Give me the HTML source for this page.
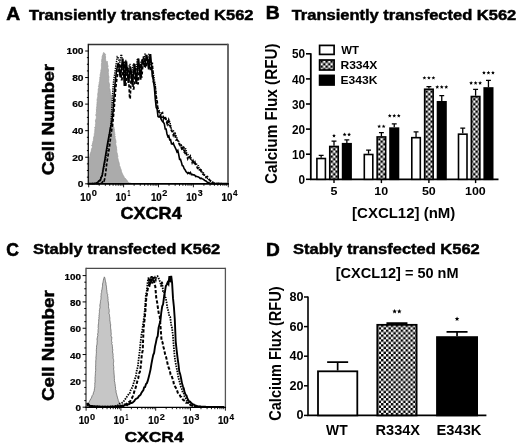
<!DOCTYPE html>
<html><head><meta charset="utf-8"><style>
html,body{margin:0;padding:0;background:#fff;}
svg{display:block;filter:blur(0.3px);}
text{font-family:"Liberation Sans",sans-serif;font-weight:bold;}
</style></head><body>
<svg width="520" height="446" viewBox="0 0 520 446">
<defs>
<pattern id="chk" x="0.45" y="0.45" width="5" height="5" patternUnits="userSpaceOnUse">
<rect width="5" height="5" fill="#fff"/><rect width="2.5" height="2.5" fill="#000"/><rect x="2.5" y="2.5" width="2.5" height="2.5" fill="#000"/>
</pattern>
<pattern id="chkD" x="3.75" y="1.25" width="4.9" height="4.9" patternUnits="userSpaceOnUse">
<rect width="4.9" height="4.9" fill="#fff"/><rect width="2.45" height="2.45" fill="#000"/><rect x="2.45" y="2.45" width="2.45" height="2.45" fill="#000"/>
</pattern>
</defs>
<rect width="520" height="446" fill="#fff"/>
<text transform="translate(6.32,19.50) scale(1.0028,1)" font-size="19.20" stroke="#000" stroke-width="0.6" fill="#000">A</text>
<text transform="translate(265.79,19.20) scale(1.0725,1)" font-size="18.04" stroke="#000" stroke-width="0.6" fill="#000">B</text>
<text transform="translate(6.30,255.60) scale(0.9493,1)" font-size="18.49" stroke="#000" stroke-width="0.6" fill="#000">C</text>
<text transform="translate(266.01,256.20) scale(1.0260,1)" font-size="18.62" stroke="#000" stroke-width="0.6" fill="#000">D</text>
<text transform="translate(29.04,19.60) scale(1.1574,1)" font-size="14.25" stroke="#000" stroke-width="0.45" fill="#000">Transiently transfected K562</text>
<text transform="translate(291.63,19.60) scale(1.1595,1)" font-size="14.25" stroke="#000" stroke-width="0.45" fill="#000">Transiently transfected K562</text>
<text transform="translate(33.10,253.60) scale(1.1138,1)" font-size="14.84" stroke="#000" stroke-width="0.45" fill="#000">Stably transfected K562</text>
<text transform="translate(293.01,254.20) scale(1.1331,1)" font-size="14.55" stroke="#000" stroke-width="0.45" fill="#000">Stably transfected K562</text>
<path d="M88.70,183.80 L89.01,182.89 L88.77,182.24 L88.64,181.30 L88.77,180.04 L88.60,179.16 L88.76,178.20 L88.57,177.51 L88.76,176.47 L88.38,175.71 L88.97,174.28 L88.60,174.04 L88.38,172.80 L88.66,172.04 L88.63,170.96 L88.73,169.99 L88.47,169.25 L88.78,168.40 L89.42,167.28 L88.44,166.38 L88.77,165.63 L88.64,164.40 L88.74,163.36 L88.34,162.83 L88.47,161.70 L88.79,160.53 L88.69,159.84 L89.29,158.91 L89.08,157.76 L89.51,156.70 L90.32,156.01 L89.85,155.18 L90.10,153.95 L90.55,152.85 L90.83,152.08 L91.29,151.14 L91.43,149.94 L91.41,149.20 L91.77,148.39 L92.42,147.23 L92.31,146.20 L91.66,145.52 L92.35,144.59 L92.37,143.86 L92.83,142.47 L92.84,141.69 L93.42,140.74 L93.39,139.65 L93.54,139.12 L93.56,138.29 L93.68,137.12 L93.92,136.64 L94.28,135.62 L94.29,134.67 L94.28,133.72 L94.76,132.92 L94.71,131.55 L94.82,131.03 L94.84,130.12 L94.96,128.74 L95.02,128.25 L94.66,127.22 L95.49,126.52 L95.48,125.37 L95.39,124.54 L95.72,123.70 L95.67,122.55 L95.73,121.94 L95.23,120.89 L95.75,120.10 L95.97,118.99 L96.25,118.40 L96.36,117.39 L96.34,116.33 L95.89,115.58 L95.74,114.80 L96.36,113.99 L96.31,112.41 L96.57,111.99 L96.41,111.00 L96.54,109.98 L96.26,108.89 L96.72,108.43 L96.60,107.02 L96.82,106.48 L96.91,105.71 L96.86,104.23 L97.01,103.58 L97.01,102.47 L97.22,101.87 L97.24,101.21 L97.09,100.40 L97.18,98.74 L97.75,98.07 L97.48,97.41 L97.80,96.68 L97.78,95.54 L97.69,94.40 L97.75,93.70 L98.02,92.72 L98.15,91.78 L98.32,90.76 L98.05,90.08 L98.30,89.15 L98.52,88.16 L98.97,87.23 L98.30,86.11 L98.98,85.36 L98.90,84.79 L99.21,83.60 L99.15,82.44 L99.44,82.09 L99.79,81.02 L99.67,80.42 L99.81,79.10 L99.93,78.09 L99.83,76.98 L100.22,76.63 L100.19,75.97 L100.20,74.38 L100.48,73.51 L100.57,72.85 L100.90,71.65 L100.86,70.85 L100.89,69.93 L101.37,69.13 L101.36,68.40 L101.50,67.28 L101.45,66.55 L101.39,65.37 L101.41,64.61 L101.52,63.21 L101.84,62.44 L101.76,61.98 L101.52,60.79 L101.89,60.12 L101.77,59.11 L102.23,58.26 L102.11,57.16 L102.25,56.20 L102.92,54.73 L103.28,53.36 L103.57,52.55 L104.75,53.40 L105.63,54.77 L105.00,55.89 L105.76,56.98 L105.36,58.05 L105.50,58.93 L105.66,59.62 L105.81,60.99 L106.76,62.05 L107.40,61.42 L107.30,62.27 L107.54,62.97 L107.45,63.91 L107.83,65.40 L108.15,66.15 L107.68,67.37 L107.99,68.43 L108.17,68.84 L108.41,70.08 L108.52,71.00 L108.22,71.93 L108.22,72.84 L108.51,73.68 L108.40,74.58 L108.47,75.15 L108.80,76.33 L108.97,77.12 L108.74,78.21 L108.71,79.00 L108.91,80.12 L108.52,81.16 L109.00,82.06 L108.89,83.06 L109.68,84.02 L109.44,84.91 L109.43,85.97 L109.46,86.90 L109.10,88.08 L109.91,89.00 L110.27,90.12 L109.97,90.73 L110.42,92.18 L110.60,92.85 L110.32,93.85 L110.99,94.96 L111.21,95.89 L111.13,97.06 L111.21,97.89 L111.52,98.79 L111.19,99.83 L111.56,101.17 L111.80,101.83 L111.39,102.49 L111.88,103.64 L111.64,104.23 L111.36,105.81 L111.80,106.06 L111.67,107.37 L111.97,108.29 L111.72,108.80 L112.21,110.06 L111.90,111.11 L112.16,111.91 L112.02,112.78 L112.12,113.83 L112.47,114.58 L112.32,115.52 L112.24,116.34 L112.11,117.40 L112.64,117.99 L112.60,119.25 L112.43,119.90 L112.70,120.69 L112.60,121.89 L112.76,123.07 L112.95,123.83 L113.34,124.44 L113.49,125.59 L113.43,126.27 L113.88,127.25 L114.05,128.20 L114.08,128.63 L114.41,130.04 L114.26,130.70 L114.41,131.68 L114.65,132.43 L114.67,133.33 L114.95,134.36 L114.66,135.62 L115.31,136.70 L114.99,137.27 L115.23,138.40 L115.11,139.04 L115.62,139.62 L115.86,140.94 L115.93,141.91 L115.99,142.64 L115.62,143.70 L115.89,144.66 L116.06,145.28 L116.08,146.07 L116.60,147.23 L116.52,148.14 L116.59,149.02 L116.80,150.20 L116.65,151.23 L116.81,151.69 L116.96,152.81 L117.38,153.74 L117.49,154.59 L117.68,155.54 L117.93,156.14 L117.58,157.26 L117.89,158.40 L118.22,159.16 L118.10,159.88 L118.45,161.12 L118.95,162.25 L119.15,163.07 L119.33,163.89 L119.31,165.31 L119.60,165.75 L120.20,167.10 L120.25,168.00 L120.73,168.76 L121.27,170.24 L121.27,171.07 L121.56,171.77 L122.02,173.12 L122.48,173.91 L122.80,174.62 L123.31,175.61 L123.96,176.55 L124.11,177.38 L124.83,178.03 L125.70,178.68 L126.15,179.43 L126.73,179.96 L127.26,180.99 L127.82,181.53 L128.46,182.31 L128.80,183.11 L130.05,183.06 L131.34,183.39 L132.00,183.80 Z" fill="#ababab" stroke="#a0a0a0" stroke-width="0.8"/>
<path d="M92.00,183.60 L92.90,183.60 L93.80,183.60 L94.70,183.60 L95.60,183.60 L96.50,183.15 L97.40,182.34 L98.30,182.06 L99.20,181.07 L100.10,180.08 L101.00,176.90 L101.90,175.42 L102.80,171.71 L103.70,168.47 L104.60,164.10 L105.50,159.14 L106.40,154.54 L107.30,150.02 L108.20,143.47 L109.10,136.90 L110.00,131.32 L110.90,124.06 L111.80,110.10 L112.70,91.67 L113.60,81.30 L114.50,75.25 L115.40,69.01 L116.30,63.23 L117.26,56.60 L117.76,56.60 L119.52,62.02 L120.02,62.02 L121.04,54.60 L121.54,54.60 L123.52,69.95 L124.02,69.95 L125.14,60.59 L125.64,60.59 L127.20,74.65 L127.70,74.65 L129.45,64.45 L129.95,64.45 L131.20,74.99 L131.70,74.99 L133.28,63.79 L133.78,63.79 L134.97,71.85 L135.47,71.85 L137.40,58.56 L137.90,58.56 L139.27,71.89 L139.77,71.89 L141.15,60.71 L141.65,60.71 L143.42,61.27 L143.92,61.27 L145.13,54.03 L145.63,54.03 L147.22,61.67 L147.72,61.67 L149.03,54.19 L149.53,54.19 L151.19,65.52 L151.69,65.52 L153.50,74.00 L154.40,80.15 L155.30,85.17 L156.20,97.05 L157.10,108.57 L158.00,108.39 L158.90,109.63 L159.80,112.86 L160.70,114.41 L161.60,117.22 L162.50,116.53 L163.40,120.24 L164.30,117.17 L165.20,119.09 L166.10,118.96 L167.00,121.21 L167.90,126.24 L168.80,119.61 L169.70,121.64 L170.60,125.06 L171.50,130.20 L172.40,130.34 L173.30,130.22 L174.20,133.78 L175.10,133.18 L176.00,135.50 L176.90,138.06 L177.80,141.47 L178.70,141.53 L179.60,143.48 L180.50,146.65 L181.40,145.50 L182.30,149.32 L183.20,147.13 L184.10,152.67 L185.00,148.82 L185.90,149.09 L186.80,153.27 L187.70,153.87 L188.60,156.25 L189.50,157.48 L190.40,155.89 L191.30,158.77 L192.20,162.78 L193.10,160.73 L194.00,163.96 L194.90,163.28 L195.80,163.86 L196.70,164.17 L197.60,165.65 L198.50,165.82 L199.40,169.76 L200.30,169.27 L201.20,169.81 L202.10,172.22 L203.00,171.72 L203.90,174.01 L204.80,175.21 L205.70,176.42 L206.60,176.91 L207.50,178.47 L208.40,178.35 L209.30,179.76 L210.20,181.07 L211.10,181.31 L212.00,182.27 L212.90,182.15 L213.80,182.83 L214.70,183.41 L215.60,183.60 L216.50,183.60 L217.40,183.60 L218.30,183.60 L219.20,183.60 L220.10,183.60 L221.00,183.60 L221.90,183.60" fill="none" stroke="#000" stroke-width="1.5" stroke-dasharray="1.3,1.0"/>
<path d="M96.00,183.60 L96.90,183.60 L97.80,183.60 L98.70,183.60 L99.60,183.60 L100.50,183.60 L101.40,183.12 L102.30,182.64 L103.20,179.99 L104.10,180.74 L105.00,177.82 L105.90,170.94 L106.80,163.05 L107.70,157.50 L108.60,152.22 L109.50,146.75 L110.40,139.26 L111.30,132.39 L112.20,126.71 L113.10,119.70 L114.00,109.81 L114.90,98.93 L115.80,87.31 L116.70,79.87 L117.60,74.53 L118.50,67.80 L119.41,63.71 L119.91,63.71 L121.43,79.66 L121.93,79.66 L123.74,62.86 L124.24,62.86 L125.31,85.04 L125.81,85.04 L127.61,67.86 L128.11,67.86 L129.69,98.71 L130.19,98.71 L131.36,71.46 L131.86,71.46 L133.28,88.85 L133.78,88.85 L135.41,68.79 L135.91,68.79 L137.64,83.61 L138.14,83.61 L139.59,65.35 L140.09,65.35 L141.34,76.89 L141.84,76.89 L143.51,57.15 L144.01,57.15 L145.65,67.19 L146.15,67.19 L147.50,57.98 L148.00,57.98 L149.63,69.37 L150.13,69.37 L151.83,63.23 L152.33,63.23 L153.50,82.00 L154.40,83.45 L155.30,87.74 L156.20,96.53 L157.10,100.31 L158.00,111.60 L158.90,111.86 L159.80,113.07 L160.70,116.58 L161.60,113.26 L162.50,112.61 L163.40,117.16 L164.30,117.98 L165.20,116.42 L166.10,120.32 L167.00,123.20 L167.90,119.96 L168.80,122.40 L169.70,124.93 L170.60,127.44 L171.50,130.66 L172.40,131.92 L173.30,135.24 L174.20,133.28 L175.10,135.80 L176.00,139.84 L176.90,139.60 L177.80,140.79 L178.70,142.95 L179.60,144.90 L180.50,145.02 L181.40,147.93 L182.30,150.29 L183.20,147.09 L184.10,147.60 L185.00,152.73 L185.90,151.87 L186.80,155.81 L187.70,158.61 L188.60,156.13 L189.50,157.02 L190.40,158.62 L191.30,160.10 L192.20,160.91 L193.10,161.18 L194.00,163.56 L194.90,162.18 L195.80,165.58 L196.70,166.32 L197.60,168.45 L198.50,168.43 L199.40,169.73 L200.30,169.56 L201.20,171.54 L202.10,173.06 L203.00,174.27 L203.90,174.64 L204.80,176.71 L205.70,177.51 L206.60,177.05 L207.50,176.63 L208.40,178.24 L209.30,179.68 L210.20,180.45 L211.10,180.92 L212.00,181.64 L212.90,182.66 L213.80,183.42 L214.70,183.60 L215.60,183.60 L216.50,183.60 L217.40,183.60 L218.30,183.60 L219.20,183.60" fill="none" stroke="#000" stroke-width="1.7" stroke-dasharray="3.2,1.8"/>
<path d="M88.70,183.60 L89.60,183.60 L90.50,183.60 L91.40,183.60 L92.30,183.60 L93.20,183.60 L94.10,183.58 L95.00,183.41 L95.90,183.23 L96.80,183.06 L97.70,182.47 L98.60,181.02 L99.50,180.60 L100.40,180.46 L101.30,177.24 L102.20,175.99 L103.10,169.69 L104.00,164.28 L104.90,159.46 L105.80,153.97 L106.70,148.29 L107.60,143.25 L108.50,138.32 L109.40,133.73 L110.30,128.47 L111.20,124.82 L112.10,119.71 L113.00,112.09 L113.90,98.32 L114.80,86.44 L115.70,77.60 L116.60,70.56 L117.50,66.00 L118.00,63.64 L118.50,63.64 L120.09,76.41 L120.59,76.41 L122.43,59.18 L122.93,59.18 L124.30,85.10 L124.80,85.10 L126.01,62.06 L126.51,62.06 L128.21,82.26 L128.71,82.26 L130.24,67.64 L130.74,67.64 L132.05,83.95 L132.55,83.95 L134.39,64.91 L134.89,64.91 L136.02,83.10 L136.52,83.10 L138.18,59.18 L138.68,59.18 L140.26,78.92 L140.76,78.92 L142.21,59.71 L142.71,59.71 L144.30,66.08 L144.80,66.08 L146.39,55.67 L146.89,55.67 L148.52,68.76 L149.02,68.76 L150.12,54.74 L150.62,54.74 L152.34,76.40 L152.84,76.40 L153.50,82.00 L154.40,87.67 L155.30,99.14 L156.20,107.50 L157.10,108.99 L158.00,116.52 L158.90,116.96 L159.80,116.25 L160.70,117.73 L161.60,120.21 L162.50,121.44 L163.40,122.32 L164.30,123.74 L165.20,129.04 L166.10,129.05 L167.00,134.01 L167.90,136.64 L168.80,135.84 L169.70,139.89 L170.60,139.75 L171.50,143.83 L172.40,144.08 L173.30,143.12 L174.20,145.75 L175.10,147.41 L176.00,149.34 L176.90,151.77 L177.80,150.50 L178.70,154.49 L179.60,159.37 L180.50,159.32 L181.40,162.21 L182.30,165.68 L183.20,165.94 L184.10,168.67 L185.00,169.62 L185.90,171.47 L186.80,172.31 L187.70,173.51 L188.60,172.63 L189.50,173.62 L190.40,172.51 L191.30,174.63 L192.20,174.39 L193.10,174.84 L194.00,174.79 L194.90,175.41 L195.80,176.54 L196.70,176.26 L197.60,176.87 L198.50,177.08 L199.40,177.64 L200.30,178.61 L201.20,178.24 L202.10,178.76 L203.00,179.09 L203.90,179.75 L204.80,180.51 L205.70,180.79 L206.60,181.57 L207.50,182.21 L208.40,182.55 L209.30,182.92 L210.20,183.28 L211.10,183.60 L212.00,183.60 L212.90,183.60 L213.80,183.60 L214.70,183.60 L215.60,183.60 L216.50,183.60 L217.40,183.60 L218.30,183.60 L219.20,183.60 L220.10,183.60 L221.00,183.60 L221.90,183.60 L222.80,183.60 L223.70,183.60 L224.60,183.60 L225.50,183.60 L226.40,183.60 L227.30,183.60" fill="none" stroke="#000" stroke-width="1.6"/>
<line x1="88.7" y1="44.50" x2="228.00" y2="44.50" stroke="#333" stroke-width="1.4"/>
<line x1="228.00" y1="43.80" x2="228.00" y2="183.90" stroke="#5a5a5a" stroke-width="1.8"/>
<line x1="88.30" y1="43.80" x2="88.30" y2="184.80" stroke="#111" stroke-width="1.3"/>
<line x1="87.65" y1="183.90" x2="228.90" y2="183.90" stroke="#000" stroke-width="1.8"/>
<line x1="85.2" y1="183.80" x2="88.7" y2="183.80" stroke="#000" stroke-width="1"/>
<line x1="86.9" y1="177.16" x2="88.7" y2="177.16" stroke="#000" stroke-width="1"/>
<line x1="86.9" y1="170.52" x2="88.7" y2="170.52" stroke="#000" stroke-width="1"/>
<line x1="86.9" y1="163.88" x2="88.7" y2="163.88" stroke="#000" stroke-width="1"/>
<line x1="85.2" y1="157.24" x2="88.7" y2="157.24" stroke="#000" stroke-width="1"/>
<line x1="86.9" y1="150.60" x2="88.7" y2="150.60" stroke="#000" stroke-width="1"/>
<line x1="86.9" y1="143.96" x2="88.7" y2="143.96" stroke="#000" stroke-width="1"/>
<line x1="86.9" y1="137.32" x2="88.7" y2="137.32" stroke="#000" stroke-width="1"/>
<line x1="85.2" y1="130.68" x2="88.7" y2="130.68" stroke="#000" stroke-width="1"/>
<line x1="86.9" y1="124.04" x2="88.7" y2="124.04" stroke="#000" stroke-width="1"/>
<line x1="86.9" y1="117.40" x2="88.7" y2="117.40" stroke="#000" stroke-width="1"/>
<line x1="86.9" y1="110.76" x2="88.7" y2="110.76" stroke="#000" stroke-width="1"/>
<line x1="85.2" y1="104.12" x2="88.7" y2="104.12" stroke="#000" stroke-width="1"/>
<line x1="86.9" y1="97.48" x2="88.7" y2="97.48" stroke="#000" stroke-width="1"/>
<line x1="86.9" y1="90.84" x2="88.7" y2="90.84" stroke="#000" stroke-width="1"/>
<line x1="86.9" y1="84.20" x2="88.7" y2="84.20" stroke="#000" stroke-width="1"/>
<line x1="85.2" y1="77.56" x2="88.7" y2="77.56" stroke="#000" stroke-width="1"/>
<line x1="86.9" y1="70.92" x2="88.7" y2="70.92" stroke="#000" stroke-width="1"/>
<line x1="86.9" y1="64.28" x2="88.7" y2="64.28" stroke="#000" stroke-width="1"/>
<line x1="86.9" y1="57.64" x2="88.7" y2="57.64" stroke="#000" stroke-width="1"/>
<line x1="85.2" y1="51.00" x2="88.7" y2="51.00" stroke="#000" stroke-width="1"/>
<line x1="88.70" y1="183.8" x2="88.70" y2="187.3" stroke="#000" stroke-width="0.9"/>
<line x1="99.21" y1="183.8" x2="99.21" y2="185.8" stroke="#000" stroke-width="0.9"/>
<line x1="105.35" y1="183.8" x2="105.35" y2="185.8" stroke="#000" stroke-width="0.9"/>
<line x1="109.71" y1="183.8" x2="109.71" y2="185.8" stroke="#000" stroke-width="0.9"/>
<line x1="113.09" y1="183.8" x2="113.09" y2="185.8" stroke="#000" stroke-width="0.9"/>
<line x1="115.86" y1="183.8" x2="115.86" y2="185.8" stroke="#000" stroke-width="0.9"/>
<line x1="118.19" y1="183.8" x2="118.19" y2="185.8" stroke="#000" stroke-width="0.9"/>
<line x1="120.22" y1="183.8" x2="120.22" y2="185.8" stroke="#000" stroke-width="0.9"/>
<line x1="122.00" y1="183.8" x2="122.00" y2="185.8" stroke="#000" stroke-width="0.9"/>
<line x1="123.60" y1="183.8" x2="123.60" y2="187.3" stroke="#000" stroke-width="0.9"/>
<line x1="134.11" y1="183.8" x2="134.11" y2="185.8" stroke="#000" stroke-width="0.9"/>
<line x1="140.25" y1="183.8" x2="140.25" y2="185.8" stroke="#000" stroke-width="0.9"/>
<line x1="144.61" y1="183.8" x2="144.61" y2="185.8" stroke="#000" stroke-width="0.9"/>
<line x1="147.99" y1="183.8" x2="147.99" y2="185.8" stroke="#000" stroke-width="0.9"/>
<line x1="150.76" y1="183.8" x2="150.76" y2="185.8" stroke="#000" stroke-width="0.9"/>
<line x1="153.09" y1="183.8" x2="153.09" y2="185.8" stroke="#000" stroke-width="0.9"/>
<line x1="155.12" y1="183.8" x2="155.12" y2="185.8" stroke="#000" stroke-width="0.9"/>
<line x1="156.90" y1="183.8" x2="156.90" y2="185.8" stroke="#000" stroke-width="0.9"/>
<line x1="158.50" y1="183.8" x2="158.50" y2="187.3" stroke="#000" stroke-width="0.9"/>
<line x1="169.01" y1="183.8" x2="169.01" y2="185.8" stroke="#000" stroke-width="0.9"/>
<line x1="175.15" y1="183.8" x2="175.15" y2="185.8" stroke="#000" stroke-width="0.9"/>
<line x1="179.51" y1="183.8" x2="179.51" y2="185.8" stroke="#000" stroke-width="0.9"/>
<line x1="182.89" y1="183.8" x2="182.89" y2="185.8" stroke="#000" stroke-width="0.9"/>
<line x1="185.66" y1="183.8" x2="185.66" y2="185.8" stroke="#000" stroke-width="0.9"/>
<line x1="187.99" y1="183.8" x2="187.99" y2="185.8" stroke="#000" stroke-width="0.9"/>
<line x1="190.02" y1="183.8" x2="190.02" y2="185.8" stroke="#000" stroke-width="0.9"/>
<line x1="191.80" y1="183.8" x2="191.80" y2="185.8" stroke="#000" stroke-width="0.9"/>
<line x1="193.40" y1="183.8" x2="193.40" y2="187.3" stroke="#000" stroke-width="0.9"/>
<line x1="203.91" y1="183.8" x2="203.91" y2="185.8" stroke="#000" stroke-width="0.9"/>
<line x1="210.05" y1="183.8" x2="210.05" y2="185.8" stroke="#000" stroke-width="0.9"/>
<line x1="214.41" y1="183.8" x2="214.41" y2="185.8" stroke="#000" stroke-width="0.9"/>
<line x1="217.79" y1="183.8" x2="217.79" y2="185.8" stroke="#000" stroke-width="0.9"/>
<line x1="220.56" y1="183.8" x2="220.56" y2="185.8" stroke="#000" stroke-width="0.9"/>
<line x1="222.89" y1="183.8" x2="222.89" y2="185.8" stroke="#000" stroke-width="0.9"/>
<line x1="224.92" y1="183.8" x2="224.92" y2="185.8" stroke="#000" stroke-width="0.9"/>
<line x1="226.70" y1="183.8" x2="226.70" y2="185.8" stroke="#000" stroke-width="0.9"/>
<line x1="228.30" y1="183.8" x2="228.30" y2="187.3" stroke="#000" stroke-width="0.9"/>
<text transform="translate(77.84,187.10) scale(1.0800,1)" font-size="9.46" stroke="#000" stroke-width="0.2" fill="#000">0</text>
<text transform="translate(72.17,160.54) scale(1.0800,1)" font-size="9.46" stroke="#000" stroke-width="0.2" fill="#000">20</text>
<text transform="translate(72.17,133.98) scale(1.0800,1)" font-size="9.46" stroke="#000" stroke-width="0.2" fill="#000">40</text>
<text transform="translate(72.17,107.42) scale(1.0800,1)" font-size="9.46" stroke="#000" stroke-width="0.2" fill="#000">60</text>
<text transform="translate(72.17,80.86) scale(1.0800,1)" font-size="9.46" stroke="#000" stroke-width="0.2" fill="#000">80</text>
<text transform="translate(66.47,54.30) scale(1.0800,1)" font-size="9.46" stroke="#000" stroke-width="0.2" fill="#000">100</text>
<text transform="translate(80.29,200.50) scale(0.9692,1)" font-size="10.04" stroke="#000" stroke-width="0.2" fill="#000">10</text>
<text transform="translate(91.63,196.30) scale(1.0951,1)" font-size="8.46" stroke="#000" stroke-width="0.15" fill="#000">0</text>
<text transform="translate(115.59,200.50) scale(0.9692,1)" font-size="10.04" stroke="#000" stroke-width="0.2" fill="#000">10</text>
<text transform="translate(127.48,196.30) scale(0.6102,1)" font-size="8.46" stroke="#000" stroke-width="0.15" fill="#000">1</text>
<text transform="translate(150.89,200.50) scale(0.9692,1)" font-size="10.04" stroke="#000" stroke-width="0.2" fill="#000">10</text>
<text transform="translate(162.28,196.30) scale(1.0837,1)" font-size="8.46" stroke="#000" stroke-width="0.15" fill="#000">2</text>
<text transform="translate(186.19,200.50) scale(0.9692,1)" font-size="10.04" stroke="#000" stroke-width="0.2" fill="#000">10</text>
<text transform="translate(197.70,196.30) scale(1.0456,1)" font-size="8.46" stroke="#000" stroke-width="0.15" fill="#000">3</text>
<text transform="translate(221.49,200.50) scale(0.9692,1)" font-size="10.04" stroke="#000" stroke-width="0.2" fill="#000">10</text>
<text transform="translate(233.08,196.30) scale(0.9723,1)" font-size="8.46" stroke="#000" stroke-width="0.15" fill="#000">4</text>
<path d="M86.10,406.70 L86.81,405.78 L87.44,405.09 L87.92,404.04 L88.59,402.83 L89.18,401.96 L89.63,400.85 L90.13,400.12 L90.76,398.83 L91.33,398.20 L91.72,397.09 L92.13,395.70 L92.58,395.12 L93.25,394.23 L93.26,392.88 L93.74,392.15 L94.23,390.73 L94.31,390.04 L94.43,388.75 L94.64,388.07 L94.82,386.73 L94.71,385.61 L94.80,385.06 L94.85,384.34 L94.75,382.91 L95.19,382.12 L95.07,381.02 L94.94,379.95 L95.21,379.09 L95.00,378.25 L95.14,376.81 L95.32,376.08 L95.21,375.05 L95.54,373.79 L95.19,373.24 L95.48,372.29 L95.55,370.86 L95.72,370.26 L95.67,369.01 L95.60,367.98 L95.60,367.23 L95.61,366.03 L95.82,365.05 L95.58,364.23 L95.79,363.19 L95.73,362.13 L95.81,360.79 L95.76,359.76 L96.19,359.17 L95.84,357.86 L96.04,357.02 L96.11,355.84 L96.23,354.97 L96.27,353.81 L96.33,353.24 L96.48,351.85 L96.18,350.98 L96.47,349.97 L96.35,349.18 L96.64,347.79 L96.49,346.99 L96.59,345.97 L96.79,345.08 L97.09,344.07 L97.05,342.93 L97.09,342.04 L97.33,340.94 L97.06,340.07 L96.97,338.98 L97.30,337.90 L97.40,337.00 L97.71,336.05 L97.92,335.34 L97.48,333.92 L98.13,333.02 L98.07,332.19 L98.04,330.64 L98.05,329.68 L98.43,328.76 L98.16,327.91 L98.15,327.28 L98.32,325.96 L98.17,325.07 L98.53,323.84 L98.52,322.50 L98.66,321.51 L98.75,321.00 L98.61,319.86 L99.04,318.63 L98.77,317.98 L99.14,316.57 L98.87,315.90 L99.28,314.87 L99.21,313.47 L99.44,312.34 L99.45,311.56 L99.33,310.20 L99.60,309.42 L99.89,308.04 L100.08,307.27 L99.87,306.09 L99.88,304.94 L100.17,303.81 L100.37,302.92 L100.41,301.54 L100.48,300.72 L100.83,299.64 L100.95,298.74 L101.01,297.39 L100.86,296.78 L101.11,295.41 L101.17,294.23 L101.13,293.56 L101.62,292.56 L101.65,291.24 L101.71,290.09 L102.14,289.18 L102.18,288.03 L102.34,287.04 L102.54,286.28 L102.61,285.06 L102.49,284.02 L102.80,283.05 L103.19,281.99 L103.11,281.13 L103.41,280.13 L103.70,278.78 L104.09,277.68 L104.30,276.86 L104.94,278.06 L104.97,278.97 L105.34,280.31 L105.48,281.00 L105.58,281.84 L106.01,283.10 L106.03,283.90 L106.00,285.00 L106.46,286.16 L106.38,287.13 L106.66,288.07 L106.50,289.14 L106.88,290.17 L106.90,291.47 L107.05,292.22 L107.06,293.28 L107.82,294.71 L107.59,295.38 L107.76,296.74 L108.00,297.78 L107.92,298.62 L108.13,299.49 L107.96,300.83 L108.30,301.92 L108.32,303.03 L108.57,303.95 L108.63,305.18 L108.49,306.28 L108.52,306.99 L108.75,308.43 L109.11,309.32 L109.17,310.28 L109.26,311.39 L109.00,312.79 L109.00,313.73 L109.41,314.39 L109.55,315.74 L109.61,316.78 L109.85,317.79 L109.86,318.76 L109.80,319.64 L109.93,321.00 L110.18,321.75 L110.26,322.85 L110.33,323.84 L110.77,324.84 L110.48,326.08 L110.63,327.04 L110.55,327.90 L110.74,328.89 L110.96,329.98 L111.06,331.23 L111.04,332.13 L111.21,333.17 L111.25,334.11 L111.05,335.15 L110.94,336.25 L111.86,336.97 L111.73,338.51 L111.69,339.18 L111.53,340.28 L111.69,341.64 L112.17,342.54 L111.64,343.59 L112.10,344.56 L112.37,345.49 L112.35,346.82 L112.53,348.04 L112.49,348.80 L112.96,350.20 L112.53,350.89 L112.56,352.02 L112.89,353.27 L113.14,354.25 L113.00,355.42 L113.25,356.27 L113.09,357.29 L113.08,358.23 L113.55,359.39 L113.65,360.47 L113.73,361.49 L113.47,362.78 L113.40,363.68 L113.44,364.51 L113.62,366.22 L113.77,366.76 L113.80,367.74 L113.55,369.15 L113.83,370.17 L113.87,370.83 L113.95,371.78 L114.01,372.85 L114.05,374.17 L114.24,374.95 L114.24,375.88 L114.32,377.00 L114.26,378.18 L114.49,378.79 L114.48,379.94 L114.31,380.79 L114.83,382.33 L114.85,383.27 L115.16,384.14 L115.13,384.98 L115.27,386.10 L115.44,386.68 L115.54,388.04 L115.60,388.80 L115.53,389.80 L116.26,390.89 L115.92,391.95 L116.29,393.09 L116.62,394.11 L116.76,395.04 L117.05,395.86 L117.34,397.10 L117.67,397.98 L117.78,399.18 L118.44,399.86 L118.30,400.59 L118.93,401.93 L119.30,403.32 L119.72,404.07 L120.19,404.97 L120.72,406.13 L122.00,406.70 Z" fill="#c6c6c6" stroke="#6a6a6a" stroke-width="0.8"/>
<path d="M86.50,404.50 L87.40,405.03 L88.30,405.61 L89.20,405.76 L90.10,405.88 L91.00,406.10 L91.90,406.27 L92.80,406.33 L93.70,406.34 L94.60,406.40 L95.50,406.43 L96.40,406.48 L97.30,406.50 L98.20,406.54 L99.10,406.55 L100.00,406.62 L100.90,406.60 L101.80,406.64 L102.70,406.65 L103.60,406.67 L104.50,406.69 L105.40,406.70 L106.30,406.73 L107.20,406.74 L108.10,406.77 L109.00,406.77 L109.90,406.80 L110.80,406.69 L111.70,406.58 L112.60,406.43 L113.50,406.33 L114.40,406.22 L115.30,406.07 L116.20,405.92 L117.10,405.52 L118.00,405.39 L118.90,404.93 L119.80,403.70 L120.70,403.21 L121.60,402.88 L122.50,402.72 L123.40,402.03 L124.30,400.21 L125.20,399.16 L126.10,397.92 L127.00,396.59 L127.90,395.34 L128.80,393.85 L129.70,393.65 L130.60,390.37 L131.50,388.71 L132.40,387.30 L133.30,384.25 L134.20,381.41 L135.10,378.47 L136.00,375.58 L136.90,369.46 L137.80,366.96 L138.70,358.71 L139.60,351.91 L140.50,342.66 L141.40,334.98 L142.30,330.12 L143.20,323.35 L144.10,316.96 L145.00,308.52 L145.90,294.97 L146.80,290.87 L147.70,281.49 L148.60,277.43 L149.50,286.52 L150.40,279.30 L151.30,276.20 L152.20,283.67 L153.10,278.07 L154.00,279.34 L154.90,277.58 L155.80,279.95 L156.70,276.20 L157.60,276.20 L158.50,277.85 L159.40,280.13 L160.30,282.47 L161.20,286.69 L162.10,281.47 L163.00,291.06 L163.90,290.90 L164.80,296.61 L165.70,297.86 L166.60,302.49 L167.50,308.73 L168.40,311.36 L169.30,316.24 L170.20,317.01 L171.10,324.44 L172.00,327.80 L172.90,335.30 L173.80,347.13 L174.70,357.04 L175.60,362.95 L176.50,367.40 L177.40,371.87 L178.30,377.24 L179.20,380.50 L180.10,383.70 L181.00,387.21 L181.90,389.10 L182.80,392.69 L183.70,393.47 L184.60,396.79 L185.50,397.78 L186.40,399.52 L187.30,401.01 L188.20,401.81 L189.10,402.80 L190.00,404.49 L190.90,404.50 L191.80,404.54 L192.70,405.52 L193.60,405.76 L194.50,406.27 L195.40,406.52 L196.30,406.57 L197.20,406.63 L198.10,406.67 L199.00,406.70 L199.90,406.75 L200.80,406.79 L201.70,406.84 L202.60,406.88 L203.50,406.93 L204.40,406.97" fill="none" stroke="#000" stroke-width="1.8" stroke-dasharray="1.5,1.1"/>
<path d="M104.00,407.00 L104.90,406.98 L105.80,406.96 L106.70,406.95 L107.60,406.93 L108.50,406.91 L109.40,406.89 L110.30,406.87 L111.20,406.86 L112.10,406.84 L113.00,406.82 L113.90,406.80 L114.80,406.71 L115.70,406.64 L116.60,406.54 L117.50,406.43 L118.40,406.36 L119.30,406.25 L120.20,406.17 L121.10,406.08 L122.00,405.99 L122.90,405.57 L123.80,405.08 L124.70,404.42 L125.60,404.37 L126.50,404.09 L127.40,402.58 L128.30,402.71 L129.20,401.92 L130.10,401.55 L131.00,399.30 L131.90,398.12 L132.80,396.09 L133.70,393.64 L134.60,390.48 L135.50,388.24 L136.40,385.04 L137.30,381.19 L138.20,378.54 L139.10,373.26 L140.00,371.70 L140.90,365.15 L141.80,354.82 L142.70,350.41 L143.60,327.92 L144.50,320.07 L145.40,311.10 L146.30,297.63 L147.20,292.49 L148.10,287.04 L149.00,286.12 L149.90,279.00 L150.80,282.22 L151.70,279.98 L152.60,280.67 L153.50,277.15 L154.40,284.59 L155.30,286.35 L156.20,297.35 L157.10,302.08 L158.00,308.66 L158.90,314.35 L159.80,316.71 L160.70,329.12 L161.60,341.19 L162.50,342.16 L163.40,346.89 L164.30,350.17 L165.20,354.66 L166.10,357.01 L167.00,361.06 L167.90,365.29 L168.80,368.02 L169.70,369.88 L170.60,374.62 L171.50,375.32 L172.40,378.29 L173.30,381.10 L174.20,385.76 L175.10,386.62 L176.00,388.10 L176.90,389.92 L177.80,392.85 L178.70,393.30 L179.60,394.41 L180.50,396.71 L181.40,396.93 L182.30,398.62 L183.20,400.00 L184.10,400.45 L185.00,401.30 L185.90,402.59 L186.80,402.42 L187.70,402.78 L188.60,403.22 L189.50,404.55 L190.40,404.95 L191.30,405.39 L192.20,405.32 L193.10,405.69 L194.00,405.88 L194.90,406.09 L195.80,406.31 L196.70,406.50 L197.60,406.71 L198.50,406.82 L199.40,406.84 L200.30,406.86 L201.20,406.90 L202.10,406.92 L203.00,406.94 L203.90,406.97 L204.80,406.99" fill="none" stroke="#000" stroke-width="2.0" stroke-dasharray="3.4,1.8"/>
<path d="M86.60,403.00 L87.50,404.77 L88.40,404.16 L89.30,405.41 L90.20,405.84 L91.10,405.95 L92.00,406.05 L92.90,406.17 L93.80,406.26 L94.70,406.37 L95.60,406.43 L96.50,406.45 L97.40,406.49 L98.30,406.53 L99.20,406.56 L100.10,406.61 L101.00,406.61 L101.90,406.61 L102.80,406.60 L103.70,406.61 L104.60,406.59 L105.50,406.60 L106.40,406.60 L107.30,406.60 L108.20,406.59 L109.10,406.59 L110.00,406.60 L110.90,406.59 L111.80,406.61 L112.70,406.60 L113.60,406.60 L114.50,406.60 L115.40,406.57 L116.30,406.49 L117.20,406.43 L118.10,406.35 L119.00,406.28 L119.90,406.20 L120.80,406.02 L121.70,405.79 L122.60,405.56 L123.50,406.01 L124.40,405.02 L125.30,404.89 L126.20,404.83 L127.10,405.07 L128.00,404.20 L128.90,404.27 L129.80,403.66 L130.70,402.69 L131.60,403.08 L132.50,402.75 L133.40,401.82 L134.30,401.05 L135.20,399.60 L136.10,398.72 L137.00,398.33 L137.90,397.76 L138.80,396.25 L139.70,395.59 L140.60,394.61 L141.50,392.64 L142.40,391.34 L143.30,390.33 L144.20,387.34 L145.10,387.06 L146.00,383.98 L146.90,383.18 L147.80,380.67 L148.70,377.26 L149.60,373.62 L150.50,369.61 L151.40,364.07 L152.30,359.38 L153.20,355.11 L154.10,352.88 L155.00,346.55 L155.90,342.62 L156.80,338.08 L157.70,336.16 L158.60,327.62 L159.50,324.37 L160.40,320.92 L161.30,312.27 L162.20,306.37 L163.10,304.27 L164.00,297.15 L164.90,292.11 L165.80,286.18 L166.70,284.61 L167.60,282.46 L168.50,284.04 L169.40,276.19 L170.30,279.50 L171.20,275.91 L172.10,282.80 L173.00,298.18 L173.90,306.71 L174.80,319.48 L175.70,341.37 L176.60,349.78 L177.50,357.33 L178.40,363.76 L179.30,371.65 L180.20,374.17 L181.10,378.55 L182.00,383.37 L182.90,386.25 L183.80,388.58 L184.70,392.59 L185.60,394.67 L186.50,395.45 L187.40,398.49 L188.30,400.19 L189.20,401.29 L190.10,401.64 L191.00,402.91 L191.90,403.50 L192.80,404.40 L193.70,404.48 L194.60,405.22 L195.50,405.35 L196.40,405.85 L197.30,406.22 L198.20,406.52 L199.10,406.53 L200.00,406.57 L200.90,406.62 L201.80,406.66 L202.70,406.70 L203.60,406.73 L204.50,406.77 L205.40,406.81 L206.30,406.85 L207.20,406.88 L208.10,406.92 L209.00,406.96 L209.90,407.00 L210.80,407.00 L211.70,407.00 L212.60,407.00 L213.50,407.00 L214.40,407.00 L215.30,407.00 L216.20,407.00 L217.10,407.00 L218.00,407.00 L218.90,407.00 L219.80,407.00 L220.70,407.00 L221.60,407.00 L222.50,407.00 L223.40,407.00 L224.30,407.00" fill="none" stroke="#000" stroke-width="1.9"/>
<line x1="86.1" y1="268.40" x2="225.40" y2="268.40" stroke="#4a4a4a" stroke-width="1.3"/>
<line x1="225.40" y1="267.75" x2="225.40" y2="407.40" stroke="#555" stroke-width="1.3"/>
<line x1="86.00" y1="267.75" x2="86.00" y2="408.05" stroke="#444" stroke-width="1.3"/>
<line x1="85.35" y1="407.40" x2="226.05" y2="407.40" stroke="#000" stroke-width="1.3"/>
<line x1="82.6" y1="407.20" x2="86.1" y2="407.20" stroke="#000" stroke-width="1"/>
<line x1="84.3" y1="400.62" x2="86.1" y2="400.62" stroke="#000" stroke-width="1"/>
<line x1="84.3" y1="394.04" x2="86.1" y2="394.04" stroke="#000" stroke-width="1"/>
<line x1="84.3" y1="387.46" x2="86.1" y2="387.46" stroke="#000" stroke-width="1"/>
<line x1="82.6" y1="380.88" x2="86.1" y2="380.88" stroke="#000" stroke-width="1"/>
<line x1="84.3" y1="374.30" x2="86.1" y2="374.30" stroke="#000" stroke-width="1"/>
<line x1="84.3" y1="367.72" x2="86.1" y2="367.72" stroke="#000" stroke-width="1"/>
<line x1="84.3" y1="361.14" x2="86.1" y2="361.14" stroke="#000" stroke-width="1"/>
<line x1="82.6" y1="354.56" x2="86.1" y2="354.56" stroke="#000" stroke-width="1"/>
<line x1="84.3" y1="347.98" x2="86.1" y2="347.98" stroke="#000" stroke-width="1"/>
<line x1="84.3" y1="341.40" x2="86.1" y2="341.40" stroke="#000" stroke-width="1"/>
<line x1="84.3" y1="334.82" x2="86.1" y2="334.82" stroke="#000" stroke-width="1"/>
<line x1="82.6" y1="328.24" x2="86.1" y2="328.24" stroke="#000" stroke-width="1"/>
<line x1="84.3" y1="321.66" x2="86.1" y2="321.66" stroke="#000" stroke-width="1"/>
<line x1="84.3" y1="315.08" x2="86.1" y2="315.08" stroke="#000" stroke-width="1"/>
<line x1="84.3" y1="308.50" x2="86.1" y2="308.50" stroke="#000" stroke-width="1"/>
<line x1="82.6" y1="301.92" x2="86.1" y2="301.92" stroke="#000" stroke-width="1"/>
<line x1="84.3" y1="295.34" x2="86.1" y2="295.34" stroke="#000" stroke-width="1"/>
<line x1="84.3" y1="288.76" x2="86.1" y2="288.76" stroke="#000" stroke-width="1"/>
<line x1="84.3" y1="282.18" x2="86.1" y2="282.18" stroke="#000" stroke-width="1"/>
<line x1="82.6" y1="275.60" x2="86.1" y2="275.60" stroke="#000" stroke-width="1"/>
<line x1="86.10" y1="407.2" x2="86.10" y2="410.7" stroke="#000" stroke-width="0.9"/>
<line x1="96.58" y1="407.2" x2="96.58" y2="409.2" stroke="#000" stroke-width="0.9"/>
<line x1="102.70" y1="407.2" x2="102.70" y2="409.2" stroke="#000" stroke-width="0.9"/>
<line x1="107.05" y1="407.2" x2="107.05" y2="409.2" stroke="#000" stroke-width="0.9"/>
<line x1="110.42" y1="407.2" x2="110.42" y2="409.2" stroke="#000" stroke-width="0.9"/>
<line x1="113.18" y1="407.2" x2="113.18" y2="409.2" stroke="#000" stroke-width="0.9"/>
<line x1="115.51" y1="407.2" x2="115.51" y2="409.2" stroke="#000" stroke-width="0.9"/>
<line x1="117.53" y1="407.2" x2="117.53" y2="409.2" stroke="#000" stroke-width="0.9"/>
<line x1="119.31" y1="407.2" x2="119.31" y2="409.2" stroke="#000" stroke-width="0.9"/>
<line x1="120.90" y1="407.2" x2="120.90" y2="410.7" stroke="#000" stroke-width="0.9"/>
<line x1="131.38" y1="407.2" x2="131.38" y2="409.2" stroke="#000" stroke-width="0.9"/>
<line x1="137.50" y1="407.2" x2="137.50" y2="409.2" stroke="#000" stroke-width="0.9"/>
<line x1="141.85" y1="407.2" x2="141.85" y2="409.2" stroke="#000" stroke-width="0.9"/>
<line x1="145.22" y1="407.2" x2="145.22" y2="409.2" stroke="#000" stroke-width="0.9"/>
<line x1="147.98" y1="407.2" x2="147.98" y2="409.2" stroke="#000" stroke-width="0.9"/>
<line x1="150.31" y1="407.2" x2="150.31" y2="409.2" stroke="#000" stroke-width="0.9"/>
<line x1="152.33" y1="407.2" x2="152.33" y2="409.2" stroke="#000" stroke-width="0.9"/>
<line x1="154.11" y1="407.2" x2="154.11" y2="409.2" stroke="#000" stroke-width="0.9"/>
<line x1="155.70" y1="407.2" x2="155.70" y2="410.7" stroke="#000" stroke-width="0.9"/>
<line x1="166.18" y1="407.2" x2="166.18" y2="409.2" stroke="#000" stroke-width="0.9"/>
<line x1="172.30" y1="407.2" x2="172.30" y2="409.2" stroke="#000" stroke-width="0.9"/>
<line x1="176.65" y1="407.2" x2="176.65" y2="409.2" stroke="#000" stroke-width="0.9"/>
<line x1="180.02" y1="407.2" x2="180.02" y2="409.2" stroke="#000" stroke-width="0.9"/>
<line x1="182.78" y1="407.2" x2="182.78" y2="409.2" stroke="#000" stroke-width="0.9"/>
<line x1="185.11" y1="407.2" x2="185.11" y2="409.2" stroke="#000" stroke-width="0.9"/>
<line x1="187.13" y1="407.2" x2="187.13" y2="409.2" stroke="#000" stroke-width="0.9"/>
<line x1="188.91" y1="407.2" x2="188.91" y2="409.2" stroke="#000" stroke-width="0.9"/>
<line x1="190.50" y1="407.2" x2="190.50" y2="410.7" stroke="#000" stroke-width="0.9"/>
<line x1="200.98" y1="407.2" x2="200.98" y2="409.2" stroke="#000" stroke-width="0.9"/>
<line x1="207.10" y1="407.2" x2="207.10" y2="409.2" stroke="#000" stroke-width="0.9"/>
<line x1="211.45" y1="407.2" x2="211.45" y2="409.2" stroke="#000" stroke-width="0.9"/>
<line x1="214.82" y1="407.2" x2="214.82" y2="409.2" stroke="#000" stroke-width="0.9"/>
<line x1="217.58" y1="407.2" x2="217.58" y2="409.2" stroke="#000" stroke-width="0.9"/>
<line x1="219.91" y1="407.2" x2="219.91" y2="409.2" stroke="#000" stroke-width="0.9"/>
<line x1="221.93" y1="407.2" x2="221.93" y2="409.2" stroke="#000" stroke-width="0.9"/>
<line x1="223.71" y1="407.2" x2="223.71" y2="409.2" stroke="#000" stroke-width="0.9"/>
<line x1="225.40" y1="407.2" x2="225.40" y2="410.7" stroke="#000" stroke-width="0.9"/>
<text transform="translate(75.50,411.20) scale(1.0800,1)" font-size="9.18" stroke="#000" stroke-width="0.2" fill="#000">0</text>
<text transform="translate(70.00,384.88) scale(1.0800,1)" font-size="9.18" stroke="#000" stroke-width="0.2" fill="#000">20</text>
<text transform="translate(70.00,358.56) scale(1.0800,1)" font-size="9.18" stroke="#000" stroke-width="0.2" fill="#000">40</text>
<text transform="translate(70.00,332.24) scale(1.0800,1)" font-size="9.18" stroke="#000" stroke-width="0.2" fill="#000">60</text>
<text transform="translate(70.00,305.92) scale(1.0800,1)" font-size="9.18" stroke="#000" stroke-width="0.2" fill="#000">80</text>
<text transform="translate(64.47,279.60) scale(1.0800,1)" font-size="9.18" stroke="#000" stroke-width="0.2" fill="#000">100</text>
<text transform="translate(78.69,424.40) scale(0.9692,1)" font-size="10.04" stroke="#000" stroke-width="0.2" fill="#000">10</text>
<text transform="translate(90.03,420.20) scale(1.0951,1)" font-size="8.46" stroke="#000" stroke-width="0.15" fill="#000">0</text>
<text transform="translate(113.49,424.40) scale(0.9692,1)" font-size="10.04" stroke="#000" stroke-width="0.2" fill="#000">10</text>
<text transform="translate(125.38,420.20) scale(0.6102,1)" font-size="8.46" stroke="#000" stroke-width="0.15" fill="#000">1</text>
<text transform="translate(148.29,424.40) scale(0.9692,1)" font-size="10.04" stroke="#000" stroke-width="0.2" fill="#000">10</text>
<text transform="translate(159.68,420.20) scale(1.0837,1)" font-size="8.46" stroke="#000" stroke-width="0.15" fill="#000">2</text>
<text transform="translate(183.09,424.40) scale(0.9692,1)" font-size="10.04" stroke="#000" stroke-width="0.2" fill="#000">10</text>
<text transform="translate(194.60,420.20) scale(1.0456,1)" font-size="8.46" stroke="#000" stroke-width="0.15" fill="#000">3</text>
<text transform="translate(217.89,424.40) scale(0.9692,1)" font-size="10.04" stroke="#000" stroke-width="0.2" fill="#000">10</text>
<text transform="translate(229.48,420.20) scale(0.9723,1)" font-size="8.46" stroke="#000" stroke-width="0.15" fill="#000">4</text>
<text transform="translate(53.90,175.36) rotate(-90) scale(1.1290,1)" font-size="16.77" stroke="#000" stroke-width="0.45" fill="#000">Cell Number</text>
<text transform="translate(120.38,219.10) scale(1.1477,1)" font-size="15.77" stroke="#000" stroke-width="0.45" fill="#000">CXCR4</text>
<text transform="translate(54.30,401.05) rotate(-90) scale(1.1424,1)" font-size="16.49" stroke="#000" stroke-width="0.45" fill="#000">Cell Number</text>
<text transform="translate(124.40,442.20) scale(1.1303,1)" font-size="15.48" stroke="#000" stroke-width="0.45" fill="#000">CXCR4</text>
<path d="M310.8,53.3 V179.3 H498.5" fill="none" stroke="#000" stroke-width="1.8"/>
<line x1="306" y1="179.30" x2="310.8" y2="179.30" stroke="#000" stroke-width="1.6"/>
<text transform="translate(298.51,183.90) scale(0.9700,1)" font-size="12.19"  fill="#000">0</text>
<line x1="306" y1="154.20" x2="310.8" y2="154.20" stroke="#000" stroke-width="1.6"/>
<text transform="translate(291.95,158.80) scale(0.9700,1)" font-size="12.19"  fill="#000">10</text>
<line x1="306" y1="129.10" x2="310.8" y2="129.10" stroke="#000" stroke-width="1.6"/>
<text transform="translate(291.95,133.70) scale(0.9700,1)" font-size="12.19"  fill="#000">20</text>
<line x1="306" y1="104.00" x2="310.8" y2="104.00" stroke="#000" stroke-width="1.6"/>
<text transform="translate(291.95,108.60) scale(0.9700,1)" font-size="12.19"  fill="#000">30</text>
<line x1="306" y1="78.90" x2="310.8" y2="78.90" stroke="#000" stroke-width="1.6"/>
<text transform="translate(291.95,83.50) scale(0.9700,1)" font-size="12.19"  fill="#000">40</text>
<line x1="306" y1="53.80" x2="310.8" y2="53.80" stroke="#000" stroke-width="1.6"/>
<text transform="translate(291.95,58.40) scale(0.9700,1)" font-size="12.19"  fill="#000">50</text>
<rect x="316.90" y="158.51" width="8.50" height="20.79" fill="#fff" stroke="#000" stroke-width="1.6"/>
<path d="M321.15,157.71 V155.46 M318.70,155.46 H323.60" stroke="#000" stroke-width="1.3" fill="none"/>
<rect x="329.75" y="146.47" width="8.50" height="32.83" fill="url(#chk)" stroke="#000" stroke-width="1.6"/>
<path d="M334.00,145.67 V141.15 M331.55,141.15 H336.45" stroke="#000" stroke-width="1.3" fill="none"/>
<polygon points="334.00,133.80 334.53,135.07 335.90,135.18 334.86,136.08 335.18,137.42 334.00,136.70 332.82,137.42 333.14,136.08 332.10,135.18 333.47,135.07" fill="#000"/>
<rect x="342.60" y="143.71" width="8.50" height="35.59" fill="#000" stroke="#000" stroke-width="1.6"/>
<path d="M346.85,142.91 V139.89 M344.40,139.89 H349.30" stroke="#000" stroke-width="1.3" fill="none"/>
<polygon points="344.60,132.60 345.13,133.87 346.50,133.98 345.46,134.88 345.78,136.22 344.60,135.50 343.42,136.22 343.74,134.88 342.70,133.98 344.07,133.87" fill="#000"/>
<polygon points="349.10,132.60 349.63,133.87 351.00,133.98 349.96,134.88 350.28,136.22 349.10,135.50 347.92,136.22 348.24,134.88 347.20,133.98 348.57,133.87" fill="#000"/>
<line x1="334.00" y1="179.3" x2="334.00" y2="183.1" stroke="#000" stroke-width="1.4"/>
<text transform="translate(330.43,195.20) scale(1.1000,1)" font-size="11.33"  fill="#000">5</text>
<rect x="364.30" y="154.50" width="8.50" height="24.80" fill="#fff" stroke="#000" stroke-width="1.6"/>
<path d="M368.55,153.70 V150.18 M366.10,150.18 H371.00" stroke="#000" stroke-width="1.3" fill="none"/>
<rect x="377.15" y="136.93" width="8.50" height="42.37" fill="url(#chk)" stroke="#000" stroke-width="1.6"/>
<path d="M381.40,136.13 V132.61 M378.95,132.61 H383.85" stroke="#000" stroke-width="1.3" fill="none"/>
<polygon points="379.15,124.40 379.68,125.67 381.05,125.78 380.01,126.68 380.33,128.02 379.15,127.30 377.97,128.02 378.29,126.68 377.25,125.78 378.62,125.67" fill="#000"/>
<polygon points="383.65,124.40 384.18,125.67 385.55,125.78 384.51,126.68 384.83,128.02 383.65,127.30 382.47,128.02 382.79,126.68 381.75,125.78 383.12,125.67" fill="#000"/>
<rect x="390.00" y="128.14" width="8.50" height="51.16" fill="#000" stroke="#000" stroke-width="1.6"/>
<path d="M394.25,127.34 V123.83 M391.80,123.83 H396.70" stroke="#000" stroke-width="1.3" fill="none"/>
<polygon points="389.75,113.80 390.28,115.07 391.65,115.18 390.61,116.08 390.93,117.42 389.75,116.70 388.57,117.42 388.89,116.08 387.85,115.18 389.22,115.07" fill="#000"/>
<polygon points="394.25,113.80 394.78,115.07 396.15,115.18 395.11,116.08 395.43,117.42 394.25,116.70 393.07,117.42 393.39,116.08 392.35,115.18 393.72,115.07" fill="#000"/>
<polygon points="398.75,113.80 399.28,115.07 400.65,115.18 399.61,116.08 399.93,117.42 398.75,116.70 397.57,117.42 397.89,116.08 396.85,115.18 398.22,115.07" fill="#000"/>
<line x1="381.40" y1="179.3" x2="381.40" y2="183.1" stroke="#000" stroke-width="1.4"/>
<text transform="translate(374.25,195.20) scale(1.1000,1)" font-size="11.33"  fill="#000">10</text>
<rect x="411.80" y="137.68" width="8.50" height="41.62" fill="#fff" stroke="#000" stroke-width="1.6"/>
<path d="M416.05,136.88 V131.86 M413.60,131.86 H418.50" stroke="#000" stroke-width="1.3" fill="none"/>
<rect x="424.65" y="89.24" width="8.50" height="90.06" fill="url(#chk)" stroke="#000" stroke-width="1.6"/>
<path d="M428.90,88.44 V86.56 M426.45,86.56 H431.35" stroke="#000" stroke-width="1.3" fill="none"/>
<polygon points="424.40,75.90 424.93,77.17 426.30,77.28 425.26,78.18 425.58,79.52 424.40,78.80 423.22,79.52 423.54,78.18 422.50,77.28 423.87,77.17" fill="#000"/>
<polygon points="428.90,75.90 429.43,77.17 430.80,77.28 429.76,78.18 430.08,79.52 428.90,78.80 427.72,79.52 428.04,78.18 427.00,77.28 428.37,77.17" fill="#000"/>
<polygon points="433.40,75.90 433.93,77.17 435.30,77.28 434.26,78.18 434.58,79.52 433.40,78.80 432.22,79.52 432.54,78.18 431.50,77.28 432.87,77.17" fill="#000"/>
<rect x="437.50" y="101.79" width="8.50" height="77.51" fill="#000" stroke="#000" stroke-width="1.6"/>
<path d="M441.75,100.99 V95.72 M439.30,95.72 H444.20" stroke="#000" stroke-width="1.3" fill="none"/>
<polygon points="437.25,85.10 437.78,86.37 439.15,86.48 438.11,87.38 438.43,88.72 437.25,88.00 436.07,88.72 436.39,87.38 435.35,86.48 436.72,86.37" fill="#000"/>
<polygon points="441.75,85.10 442.28,86.37 443.65,86.48 442.61,87.38 442.93,88.72 441.75,88.00 440.57,88.72 440.89,87.38 439.85,86.48 441.22,86.37" fill="#000"/>
<polygon points="446.25,85.10 446.78,86.37 448.15,86.48 447.11,87.38 447.43,88.72 446.25,88.00 445.07,88.72 445.39,87.38 444.35,86.48 445.72,86.37" fill="#000"/>
<line x1="428.90" y1="179.3" x2="428.90" y2="183.1" stroke="#000" stroke-width="1.4"/>
<text transform="translate(421.95,195.20) scale(1.1000,1)" font-size="11.33"  fill="#000">50</text>
<rect x="458.50" y="134.17" width="8.50" height="45.13" fill="#fff" stroke="#000" stroke-width="1.6"/>
<path d="M462.75,133.37 V128.10 M460.30,128.10 H465.20" stroke="#000" stroke-width="1.3" fill="none"/>
<rect x="471.35" y="96.52" width="8.50" height="82.78" fill="url(#chk)" stroke="#000" stroke-width="1.6"/>
<path d="M475.60,95.72 V89.44 M473.15,89.44 H478.05" stroke="#000" stroke-width="1.3" fill="none"/>
<polygon points="471.10,81.10 471.63,82.37 473.00,82.48 471.96,83.38 472.28,84.72 471.10,84.00 469.92,84.72 470.24,83.38 469.20,82.48 470.57,82.37" fill="#000"/>
<polygon points="475.60,81.10 476.13,82.37 477.50,82.48 476.46,83.38 476.78,84.72 475.60,84.00 474.42,84.72 474.74,83.38 473.70,82.48 475.07,82.37" fill="#000"/>
<polygon points="480.10,81.10 480.63,82.37 482.00,82.48 480.96,83.38 481.28,84.72 480.10,84.00 478.92,84.72 479.24,83.38 478.20,82.48 479.57,82.37" fill="#000"/>
<rect x="484.20" y="87.98" width="8.50" height="91.32" fill="#000" stroke="#000" stroke-width="1.6"/>
<path d="M488.45,87.18 V80.28 M486.00,80.28 H490.90" stroke="#000" stroke-width="1.3" fill="none"/>
<polygon points="483.95,70.80 484.48,72.07 485.85,72.18 484.81,73.08 485.13,74.42 483.95,73.70 482.77,74.42 483.09,73.08 482.05,72.18 483.42,72.07" fill="#000"/>
<polygon points="488.45,70.80 488.98,72.07 490.35,72.18 489.31,73.08 489.63,74.42 488.45,73.70 487.27,74.42 487.59,73.08 486.55,72.18 487.92,72.07" fill="#000"/>
<polygon points="492.95,70.80 493.48,72.07 494.85,72.18 493.81,73.08 494.13,74.42 492.95,73.70 491.77,74.42 492.09,73.08 491.05,72.18 492.42,72.07" fill="#000"/>
<line x1="475.60" y1="179.3" x2="475.60" y2="183.1" stroke="#000" stroke-width="1.4"/>
<text transform="translate(464.97,195.20) scale(1.1000,1)" font-size="11.33"  fill="#000">100</text>
<rect x="319.6" y="45.4" width="14.5" height="9" fill="#fff" stroke="#000" stroke-width="1.7"/>
<rect x="319.6" y="60.0" width="14.5" height="10" fill="url(#chk)" stroke="#000" stroke-width="1.7"/>
<rect x="319.6" y="75.4" width="14.5" height="9.6" fill="#000" stroke="#000" stroke-width="1.7"/>
<text transform="translate(341.17,54.20) scale(0.9806,1)" font-size="11.64"  fill="#000">WT</text>
<text transform="translate(340.38,69.20) scale(1.0411,1)" font-size="11.64"  fill="#000">R334X</text>
<text transform="translate(340.38,84.30) scale(1.0282,1)" font-size="11.78"  fill="#000">E343K</text>
<text transform="translate(352.08,217.50) scale(0.9774,1)" font-size="15.34"  fill="#000">[CXCL12] (nM)</text>
<text transform="translate(276.50,184.11) rotate(-90) scale(0.9595,1)" font-size="15.91"  fill="#000">Calcium Flux (RFU)</text>
<path d="M308.0,296.5 V415.4 H486.4" fill="none" stroke="#000" stroke-width="1.6"/>
<line x1="304" y1="415.40" x2="308.0" y2="415.40" stroke="#000" stroke-width="1.5"/>
<text transform="translate(296.50,419.40) scale(1.0000,1)" font-size="12.62"  fill="#000">0</text>
<line x1="304" y1="385.80" x2="308.0" y2="385.80" stroke="#000" stroke-width="1.5"/>
<text transform="translate(289.50,389.80) scale(1.0000,1)" font-size="12.62"  fill="#000">20</text>
<line x1="304" y1="356.20" x2="308.0" y2="356.20" stroke="#000" stroke-width="1.5"/>
<text transform="translate(289.50,360.20) scale(1.0000,1)" font-size="12.62"  fill="#000">40</text>
<line x1="304" y1="326.60" x2="308.0" y2="326.60" stroke="#000" stroke-width="1.5"/>
<text transform="translate(289.50,330.60) scale(1.0000,1)" font-size="12.62"  fill="#000">60</text>
<line x1="304" y1="297.00" x2="308.0" y2="297.00" stroke="#000" stroke-width="1.5"/>
<text transform="translate(289.50,301.00) scale(1.0000,1)" font-size="12.62"  fill="#000">80</text>
<rect x="318.00" y="371.31" width="39.30" height="44.09" fill="#fff" stroke="#000" stroke-width="1.8"/>
<path d="M337.65,370.41 V362.12 M327.15,362.12 H348.15" stroke="#000" stroke-width="1.7" fill="none"/>
<rect x="377.30" y="324.84" width="39.30" height="90.56" fill="url(#chkD)" stroke="#000" stroke-width="1.8"/>
<path d="M396.95,323.94 V323.05 M386.45,323.05 H407.45" stroke="#000" stroke-width="1.7" fill="none"/>
<polygon points="394.60,309.04 395.23,310.57 396.88,310.70 395.63,311.77 396.01,313.38 394.60,312.52 393.19,313.38 393.57,311.77 392.32,310.70 393.97,310.57" fill="#000"/>
<polygon points="399.30,309.04 399.93,310.57 401.58,310.70 400.33,311.77 400.71,313.38 399.30,312.52 397.89,313.38 398.27,311.77 397.02,310.70 398.67,310.57" fill="#000"/>
<rect x="437.00" y="337.12" width="40.10" height="78.28" fill="#000" stroke="#000" stroke-width="1.8"/>
<path d="M457.05,336.22 V331.78 M446.55,331.78 H467.55" stroke="#000" stroke-width="1.7" fill="none"/>
<polygon points="457.05,316.54 457.68,318.07 459.33,318.20 458.08,319.27 458.46,320.88 457.05,320.02 455.64,320.88 456.02,319.27 454.77,318.20 456.42,318.07" fill="#000"/>
<text transform="translate(326.07,434.50) scale(0.9444,1)" font-size="14.69"  fill="#000">WT</text>
<text transform="translate(375.51,434.50) scale(0.9936,1)" font-size="14.69"  fill="#000">R334X</text>
<text transform="translate(436.51,434.50) scale(1.0207,1)" font-size="14.40"  fill="#000">E343K</text>
<text transform="translate(335.70,277.60) scale(0.9826,1)" font-size="14.77"  fill="#000">[CXCL12] = 50 nM</text>
<text transform="translate(281.00,420.78) rotate(-90) scale(0.9241,1)" font-size="15.77"  fill="#000">Calcium Flux (RFU)</text>
</svg>
</body></html>
